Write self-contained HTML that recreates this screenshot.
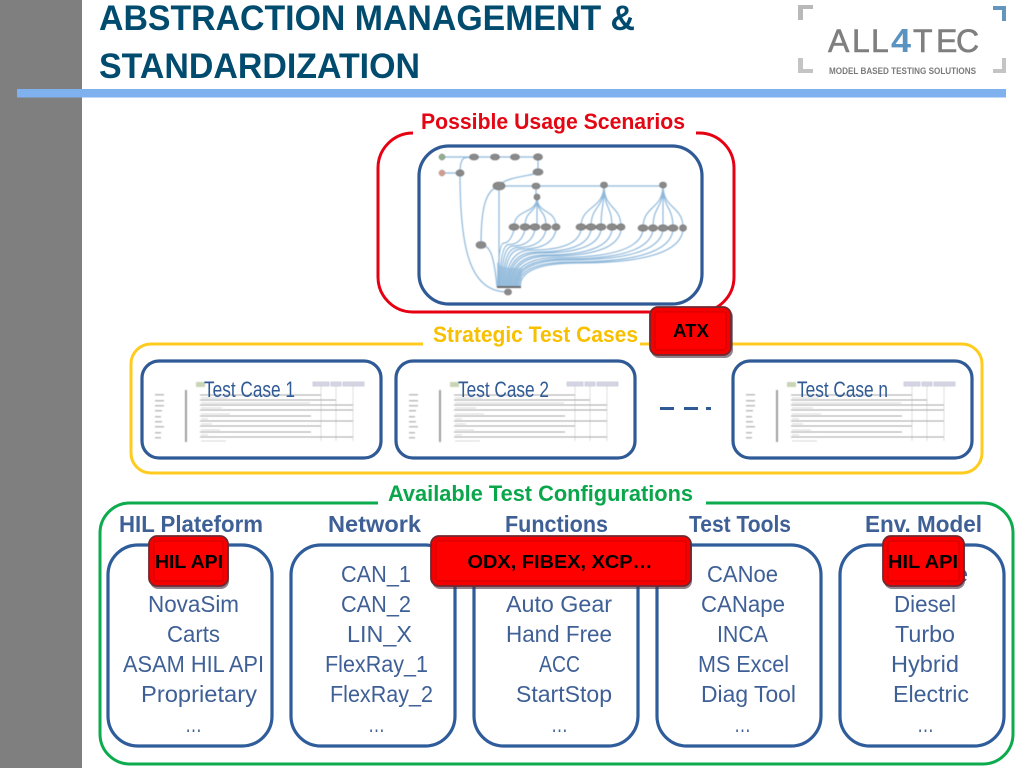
<!DOCTYPE html>
<html><head><meta charset="utf-8"><style>
html,body{margin:0;padding:0;background:#fff;width:1024px;height:768px;overflow:hidden}
svg{display:block}
text{font-family:"Liberation Sans",Arial,sans-serif}
.h{font-weight:bold;font-size:23px;fill:#3f6096}
.l{font-size:23px;fill:#3f6096}
.b{font-weight:bold;font-size:18.5px;fill:#000;text-anchor:middle}
.c{fill:#fff;stroke:#2f5a96;stroke-width:3.2}
.n{fill:#8a8a8a;stroke:#666;stroke-width:.6}
.w{fill:none;stroke:#8fb8da;stroke-width:1.2}
.btn{fill:#f50000;stroke:#6e2a30;stroke-width:1.8}
.bi{fill:#ff0000;stroke:#cf0000;stroke-width:1}
.sh{fill:#4a3040;opacity:.6}
</style></head><body>
<svg width="1024" height="768" viewBox="0 0 1024 768" xmlns="http://www.w3.org/2000/svg">
<defs>
<filter id="bl" x="-5%" y="-5%" width="110%" height="110%"><feGaussianBlur stdDeviation="0.45"/></filter>
<symbol id="tc" overflow="visible" width="1" height="1">
<g filter="url(#bl)">
<g fill="#bcbcbc"><rect x="155" y="394" width="9" height="1.5"/><rect x="155" y="400" width="9" height="1.5"/><rect x="155" y="405" width="9" height="1.5"/><rect x="155" y="410" width="7" height="1.5"/><rect x="155" y="416" width="6" height="1.5"/><rect x="155" y="421" width="7" height="1.5"/><rect x="155" y="426" width="9" height="1.5"/><rect x="155" y="432" width="6" height="1.5"/><rect x="155" y="437" width="6" height="1.5"/></g>
<rect x="185" y="390" width="2" height="52" fill="#a0a0a0"/>
<rect x="196" y="382" width="9" height="5" fill="#c8d4b4"/>
<g fill="#d4d6e4" stroke="#b0b0c0" stroke-width=".5"><rect x="313" y="382" width="16" height="4"/><rect x="331" y="382" width="10" height="4"/><rect x="343" y="382" width="21" height="4"/></g>
<g stroke="#d0d0d0" stroke-width=".7"><line x1="321" y1="386" x2="321" y2="441"/><line x1="336" y1="386" x2="336" y2="441"/><line x1="353" y1="386" x2="353" y2="441"/></g>
<g stroke="#8a8a8a" stroke-width=".8"><line x1="200" y1="395" x2="321" y2="395"/><line x1="200" y1="400" x2="336" y2="400"/><line x1="200" y1="405" x2="353" y2="405"/><line x1="200" y1="410" x2="353" y2="410"/><line x1="200" y1="416" x2="311" y2="416"/><line x1="200" y1="421" x2="353" y2="421"/><line x1="200" y1="426" x2="321" y2="426"/><line x1="200" y1="432" x2="311" y2="432"/><line x1="200" y1="437" x2="353" y2="437"/></g>
<g stroke="#d8d8d8" stroke-width="1"><line x1="201" y1="398" x2="228" y2="398"/><line x1="201" y1="403" x2="310" y2="403"/><line x1="201" y1="408" x2="222" y2="408"/><line x1="201" y1="414" x2="230" y2="414"/><line x1="201" y1="419" x2="208" y2="419"/><line x1="201" y1="424" x2="212" y2="424"/><line x1="201" y1="430" x2="220" y2="430"/><line x1="201" y1="435" x2="208" y2="435"/><line x1="201" y1="441" x2="226" y2="441"/></g>
</g>
</symbol>
</defs>

<rect x="0" y="0" width="82" height="768" fill="#7f7f7f"/>
<rect x="17" y="89" width="989" height="8.5" fill="#7fb1ef"/>
<text x="99" y="30" font-size="35" font-weight="bold" fill="#004b6e" textLength="536" lengthAdjust="spacingAndGlyphs">ABSTRACTION MANAGEMENT &amp;</text>
<text x="99" y="78" font-size="35" font-weight="bold" fill="#004b6e" textLength="321" lengthAdjust="spacingAndGlyphs">STANDARDIZATION</text>

<!-- logo -->
<path d="M798 5h15v4h-10v11h-5z" fill="#b9b9b9"/>
<path d="M993 6h13v15h-4v-11h-9z" fill="#6396bd"/>
<path d="M798 58h5v11h10v4h-15z" fill="#c4c4c4"/>
<path d="M1002 58h4v15h-13v-4h9z" fill="#c4c4c4"/>
<text y="52" font-size="32" fill="#7f7f7f" stroke="#7f7f7f" stroke-width=".6" x="828 852 871">ALL</text>
<text x="891" y="52" font-size="33" font-weight="bold" fill="#5a93c0" textLength="20" lengthAdjust="spacingAndGlyphs">4</text>
<text y="52" font-size="32" fill="#7f7f7f" stroke="#7f7f7f" stroke-width=".6" x="913 936 956">TEC</text>
<text x="829" y="74" font-size="9" font-weight="bold" fill="#7a7a7a" textLength="147" lengthAdjust="spacingAndGlyphs">MODEL BASED TESTING SOLUTIONS</text>

<!-- red frame -->
<path d="M412 133H413M696 133H699A35 35 0 0 1 734 168V277A35 35 0 0 1 699 312H413A35 35 0 0 1 378 277V168A35 35 0 0 1 413 133" fill="none" stroke="#e60012" stroke-width="3"/>
<text x="421" y="129" font-size="22.5" font-weight="bold" fill="#e30613" textLength="264" lengthAdjust="spacingAndGlyphs">Possible Usage Scenarios</text>
<rect x="419" y="146" width="283" height="158" rx="30" class="c"/>

<!-- graph -->
<g filter="url(#bl)">
<path d="M497 287V262C500 268 510 268 522 268L521 287Z" fill="#b6d2e8"/>
<g class="w">
<path d="M442 157H538M442 173H460M538 157V172M538 172C536 176 505 176 499 186M499 186H663M536 186V197"/>
<path d="M460 173C460 150 470 160 474 157M460 173C460 250 470 292 508 292M499 186C485 190 481 210 481 245M481 245C490 245 494 255 497 287M499 186V287"/>
<path d="M537 197C537 215 514 208 514 227M537 197C537 215 525 208 525 227M537 197V227M537 197C537 215 546 208 546 227M537 197C537 215 556 208 556 227"/>
<path d="M604 185C604 210 581 205 581 227M604 185C604 210 591 205 591 227M604 185C604 210 601 205 601 227M604 185C604 210 612 205 612 227M604 185C604 210 621 205 621 227"/>
<path d="M663 185C663 210 643 205 643 228M663 185C663 210 653 205 653 228M663 185V228M663 185C663 210 673 205 673 228M663 185C663 210 683 205 683 228"/>
<path d="M514 230Q510 243 504 243Q498 243 498 287M525 230Q521 244.5 509 244.5Q500 244.5 500 287M535 230Q531 246 513 246Q501.5 246 501.5 287M546 230Q542 247.5 518 247.5Q503 247.5 503 287M556 230Q552 249 522 249Q504.5 249 504.5 287M581 230Q577 250 532 250Q506 250 506 287M591 230Q587 252 537 252Q507.5 252 507.5 287M601 230Q597 253 541 253Q509 253 509 287M612 230Q608 255 546 255Q510.5 255 510.5 287M621 230Q617 256 550 256Q512 256 512 287M643 230Q639 257.5 559 257.5Q513.5 257.5 513.5 287M653 230Q649 259 564 259Q515 259 515 287M663 230Q659 260 568 260Q516.5 260 516.5 287M673 230Q669 262 572 262Q518 262 518 287M683 230Q679 263 577 263Q520 263 520 287"/>
</g>
<rect x="497" y="286" width="24" height="2" fill="#666"/>
<ellipse cx="442" cy="157" rx="3" ry="3" fill="#8fb08a" stroke="#666" stroke-width=".5"/>
<ellipse cx="442" cy="173" rx="3" ry="3" fill="#d49a8e" stroke="#888" stroke-width=".5"/>
<g class="n">
<ellipse cx="474" cy="157" rx="4.5" ry="3"/><ellipse cx="495" cy="157" rx="4.5" ry="3"/><ellipse cx="515" cy="157" rx="4.5" ry="3"/><ellipse cx="538" cy="157" rx="4.5" ry="3.2"/><ellipse cx="538" cy="172" rx="5" ry="3.2"/><ellipse cx="460" cy="173" rx="4" ry="3.2"/><ellipse cx="499" cy="186" rx="6" ry="4"/><ellipse cx="536" cy="186" rx="4" ry="3"/><ellipse cx="604" cy="185" rx="3.5" ry="3"/><ellipse cx="663" cy="185" rx="3.5" ry="3"/><ellipse cx="537" cy="197" rx="3" ry="3"/>
<ellipse cx="514" cy="227" rx="5" ry="3.2"/><ellipse cx="525" cy="227" rx="5" ry="3.2"/><ellipse cx="535" cy="227" rx="5" ry="3.2"/><ellipse cx="546" cy="227" rx="5" ry="3.2"/><ellipse cx="556" cy="227" rx="4" ry="3.2"/>
<ellipse cx="581" cy="227" rx="5" ry="3.2"/><ellipse cx="591" cy="227" rx="5" ry="3.2"/><ellipse cx="601" cy="227" rx="5" ry="3.2"/><ellipse cx="612" cy="227" rx="5" ry="3.2"/><ellipse cx="621" cy="227" rx="4" ry="3.2"/>
<ellipse cx="643" cy="228" rx="5" ry="3.2"/><ellipse cx="653" cy="228" rx="4.5" ry="3.2"/><ellipse cx="663" cy="228" rx="5" ry="3.2"/><ellipse cx="673" cy="228" rx="5" ry="3.2"/><ellipse cx="683" cy="228" rx="3.5" ry="3.2"/>
<ellipse cx="481" cy="245" rx="5" ry="3.5"/><ellipse cx="508" cy="292" rx="3.5" ry="3"/>
</g>
</g>

<!-- yellow frame -->
<path d="M423 344H151A20 20 0 0 0 131 364V453A20 20 0 0 0 151 473H962A20 20 0 0 0 982 453V364A20 20 0 0 0 962 344H640" fill="none" stroke="#ffcb1f" stroke-width="3"/>
<text x="433" y="342" font-size="22.5" font-weight="bold" fill="#f7c000" textLength="205" lengthAdjust="spacingAndGlyphs">Strategic Test Cases</text>

<rect x="142" y="361" width="239" height="97" rx="17" class="c"/>
<rect x="396" y="361" width="239" height="97" rx="17" class="c"/>
<rect x="733" y="361" width="239" height="97" rx="17" class="c"/>
<use href="#tc"/>
<use href="#tc" x="254"/>
<use href="#tc" x="591"/>
<text x="204" y="397" font-size="22.5" fill="#2f5a96" textLength="91" lengthAdjust="spacingAndGlyphs">Test Case 1</text>
<text x="458" y="397" font-size="22.5" fill="#2f5a96" textLength="91" lengthAdjust="spacingAndGlyphs">Test Case 2</text>
<text x="797" y="397" font-size="22.5" fill="#2f5a96" textLength="91" lengthAdjust="spacingAndGlyphs">Test Case n</text>
<g fill="#2f5a96"><rect x="660" y="407" width="14" height="3"/><rect x="684" y="407" width="14" height="3"/><rect x="706" y="407" width="5" height="3"/></g>

<!-- green frame -->
<path d="M378 503H130A30 30 0 0 0 100 533V734A30 30 0 0 0 130 764H983A30 30 0 0 0 1013 734V533A30 30 0 0 0 983 503H706" fill="none" stroke="#0bab4e" stroke-width="3"/>
<text x="388" y="501" font-size="22.5" font-weight="bold" fill="#0aa64b" textLength="305" lengthAdjust="spacingAndGlyphs">Available Test Configurations</text>

<text class="h" x="119" y="532" textLength="144" lengthAdjust="spacingAndGlyphs">HIL Plateform</text>
<text class="h" x="328" y="532" textLength="93" lengthAdjust="spacingAndGlyphs">Network</text>
<text class="h" x="505" y="532" textLength="103" lengthAdjust="spacingAndGlyphs">Functions</text>
<text class="h" x="689" y="532" textLength="102" lengthAdjust="spacingAndGlyphs">Test Tools</text>
<text class="h" x="865" y="532" textLength="117" lengthAdjust="spacingAndGlyphs">Env. Model</text>

<rect x="108" y="545" width="164" height="201" rx="30" class="c" style="stroke:#2f5c9a"/>
<rect x="291" y="545" width="164" height="201" rx="30" class="c" style="stroke:#2f5c9a"/>
<rect x="474" y="545" width="164" height="201" rx="30" class="c" style="stroke:#2f5c9a"/>
<rect x="657" y="545" width="164" height="201" rx="30" class="c" style="stroke:#2f5c9a"/>
<rect x="840" y="545" width="164" height="201" rx="30" class="c" style="stroke:#2f5c9a"/>

<g class="l">
<text x="148" y="612" textLength="91" lengthAdjust="spacingAndGlyphs">NovaSim</text>
<text x="167" y="642" textLength="53" lengthAdjust="spacingAndGlyphs">Carts</text>
<text x="123" y="672" textLength="141" lengthAdjust="spacingAndGlyphs">ASAM HIL API</text>
<text x="141" y="702" textLength="116" lengthAdjust="spacingAndGlyphs">Proprietary</text>
<text x="185" y="732" textLength="17" lengthAdjust="spacingAndGlyphs">…</text>

<text x="341" y="582" textLength="70" lengthAdjust="spacingAndGlyphs">CAN_1</text>
<text x="341" y="612" textLength="70" lengthAdjust="spacingAndGlyphs">CAN_2</text>
<text x="347" y="642" textLength="65" lengthAdjust="spacingAndGlyphs">LIN_X</text>
<text x="325" y="672" textLength="103" lengthAdjust="spacingAndGlyphs">FlexRay_1</text>
<text x="330" y="702" textLength="103" lengthAdjust="spacingAndGlyphs">FlexRay_2</text>
<text x="368" y="732" textLength="17" lengthAdjust="spacingAndGlyphs">…</text>

<text x="506" y="612" textLength="106" lengthAdjust="spacingAndGlyphs">Auto Gear</text>
<text x="506" y="642" textLength="106" lengthAdjust="spacingAndGlyphs">Hand Free</text>
<text x="539" y="672" textLength="41" lengthAdjust="spacingAndGlyphs">ACC</text>
<text x="516" y="702" textLength="96" lengthAdjust="spacingAndGlyphs">StartStop</text>
<text x="551" y="732" textLength="17" lengthAdjust="spacingAndGlyphs">…</text>

<text x="707" y="582" textLength="71" lengthAdjust="spacingAndGlyphs">CANoe</text>
<text x="701" y="612" textLength="84" lengthAdjust="spacingAndGlyphs">CANape</text>
<text x="717" y="642" textLength="51" lengthAdjust="spacingAndGlyphs">INCA</text>
<text x="698" y="672" textLength="91" lengthAdjust="spacingAndGlyphs">MS Excel</text>
<text x="701" y="702" textLength="95" lengthAdjust="spacingAndGlyphs">Diag Tool</text>
<text x="734" y="732" textLength="17" lengthAdjust="spacingAndGlyphs">…</text>

<text x="882" y="582" textLength="86" lengthAdjust="spacingAndGlyphs">Gasoline</text>
<text x="894" y="612" textLength="62" lengthAdjust="spacingAndGlyphs">Diesel</text>
<text x="895" y="642" textLength="60" lengthAdjust="spacingAndGlyphs">Turbo</text>
<text x="891" y="672" textLength="68" lengthAdjust="spacingAndGlyphs">Hybrid</text>
<text x="893" y="702" textLength="76" lengthAdjust="spacingAndGlyphs">Electric</text>
<text x="917" y="732" textLength="17" lengthAdjust="spacingAndGlyphs">…</text>
</g>

<!-- red buttons -->
<g>
<rect class="sh" x="650" y="307" width="82" height="49" rx="8" transform="translate(1 2)"/>
<rect class="btn" x="650" y="307" width="81" height="48" rx="8"/>
<rect class="bi" x="655" y="312" width="71" height="38" rx="2"/>
<text class="b" x="691" y="337">ATX</text>

<rect class="sh" x="149" y="536" width="79" height="51" rx="8" transform="translate(1 2)"/>
<rect class="btn" x="149" y="536" width="79" height="50" rx="8"/>
<rect class="bi" x="154" y="541" width="69" height="40" rx="2"/>
<text class="b" x="189" y="568" textLength="68" lengthAdjust="spacingAndGlyphs">HIL API</text>

<rect class="sh" x="431" y="536" width="260" height="51" rx="8" transform="translate(1 2)"/>
<rect class="btn" x="431" y="536" width="260" height="50" rx="8"/>
<rect class="bi" x="436" y="541" width="250" height="40" rx="2"/>
<text class="b" x="560" y="568" textLength="185" lengthAdjust="spacingAndGlyphs">ODX, FIBEX, XCP…</text>

<rect class="sh" x="883" y="536" width="81" height="51" rx="8" transform="translate(1 2)"/>
<rect class="btn" x="883" y="536" width="81" height="50" rx="8"/>
<rect class="bi" x="888" y="541" width="71" height="40" rx="2"/>
<text class="b" x="923" y="568" textLength="70" lengthAdjust="spacingAndGlyphs">HIL API</text>
</g>
</svg>
</body></html>
